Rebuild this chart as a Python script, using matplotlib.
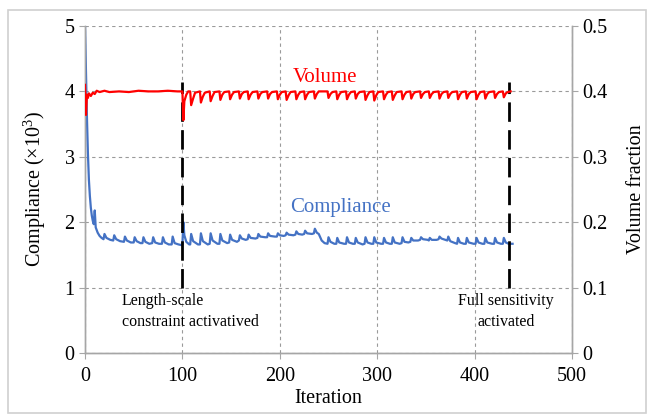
import matplotlib
matplotlib.use("Agg")
import matplotlib.pyplot as plt
from matplotlib.patches import Rectangle

plt.rcParams['font.family'] = ['Liberation Serif', 'DejaVu Serif']
plt.rcParams['mathtext.fontset'] = 'custom'
plt.rcParams['mathtext.rm'] = 'Liberation Serif'
plt.rcParams['mathtext.it'] = 'Liberation Serif:italic'

# compliance history (x10^3), vertices
comp_iter = [0, 1, 2, 3, 4, 5, 6, 7, 8, 9, 10, 11, 13, 15, 17,
             19, 20, 22, 26, 29, 30, 32, 36, 40, 41, 43, 47,
             50, 51, 53, 57, 59, 60, 62, 66, 69, 70, 72, 76,
             79, 80, 82, 86, 89, 90, 92, 96, 99, 100, 101, 102, 104, 107,
             108, 109, 111, 116, 118, 119, 121, 126, 128, 129, 131, 136,
             138, 139, 141, 146, 148, 149, 151, 156, 158, 159, 161, 165,
             167, 168, 170, 175, 177, 178, 180, 185, 187, 188, 190, 195,
             197, 198, 200, 204, 206, 207, 209, 214, 216, 217, 219, 223,
             225, 226, 228, 233, 235, 236, 238, 240, 243, 246,
             249, 250, 252, 256, 258, 259, 261, 266, 268, 269, 271, 275,
             277, 278, 280, 285, 287, 288, 290, 294, 296, 297, 299, 304,
             306, 307, 309, 313, 315, 316, 318, 323, 325, 326, 328, 332,
             334, 335, 337, 342, 344, 345, 347, 352, 353, 354, 356, 361,
             363, 364, 366, 370, 372, 373, 375, 380, 382, 383, 385, 389,
             391, 392, 394, 399, 401, 402, 404, 408, 410, 411, 413, 418,
             420, 421, 423, 427, 429, 430, 432, 435, 439]
comp_val = [5.0, 4.3, 3.6, 3.05, 2.65, 2.4, 2.22, 2.1, 2.02, 1.97, 2.18, 1.92, 1.84, 1.79, 1.76,
            1.74, 1.82, 1.76, 1.73, 1.72, 1.80, 1.74, 1.71, 1.70, 1.78, 1.72, 1.69,
            1.69, 1.77, 1.71, 1.68, 1.68, 1.77, 1.70, 1.67, 1.68, 1.77, 1.69, 1.67,
            1.67, 1.77, 1.69, 1.66, 1.66, 1.78, 1.68, 1.66, 1.65, 1.66, 2.0, 1.80, 1.70, 1.66,
            1.66, 1.82, 1.71, 1.66, 1.66, 1.83, 1.71, 1.66, 1.67, 1.83, 1.72, 1.67,
            1.67, 1.82, 1.72, 1.68, 1.69, 1.81, 1.73, 1.70, 1.72, 1.80, 1.75, 1.73,
            1.74, 1.81, 1.76, 1.75, 1.76, 1.82, 1.78, 1.77, 1.77, 1.83, 1.79, 1.78,
            1.78, 1.83, 1.80, 1.79, 1.80, 1.84, 1.81, 1.80, 1.81, 1.86, 1.82, 1.81,
            1.82, 1.87, 1.83, 1.82, 1.83, 1.90, 1.84, 1.82, 1.72, 1.68,
            1.67, 1.77, 1.70, 1.67, 1.67, 1.76, 1.69, 1.67, 1.67, 1.77, 1.69, 1.67,
            1.67, 1.76, 1.69, 1.66, 1.67, 1.77, 1.69, 1.67, 1.67, 1.77, 1.69, 1.67,
            1.67, 1.76, 1.69, 1.67, 1.67, 1.77, 1.69, 1.67, 1.68, 1.77, 1.70, 1.69,
            1.70, 1.76, 1.72, 1.72, 1.73, 1.77, 1.74, 1.73, 1.72, 1.76, 1.73, 1.73,
            1.74, 1.78, 1.75, 1.73, 1.72, 1.78, 1.71, 1.68, 1.67, 1.76, 1.69, 1.67,
            1.67, 1.76, 1.69, 1.67, 1.67, 1.76, 1.69, 1.67, 1.67, 1.76, 1.69, 1.67,
            1.67, 1.76, 1.69, 1.67, 1.67, 1.76, 1.69, 1.67, 1.67]

# volume fraction history
vol_iter = [0, 1, 2, 3, 4, 6, 8, 10, 12, 15, 20, 25, 35, 45, 55, 65, 75, 85, 95,
            100, 101, 102, 104, 106,
            108, 109, 111, 113, 118, 119, 121, 123, 128, 129, 131, 133,
            138, 139, 141, 143, 148, 149, 151, 153, 158, 159, 161, 163,
            167, 168, 170, 172, 177, 178, 180, 182, 187, 188, 190, 192,
            197, 198, 200, 202, 206, 207, 209, 211, 216, 217, 219, 221,
            225, 226, 228, 230, 235, 236, 238, 240,
            249, 250, 252, 254, 258, 259, 261, 263, 268, 269, 271, 273,
            277, 278, 280, 282, 287, 288, 290, 292, 296, 297, 299, 301,
            306, 307, 309, 311, 315, 316, 318, 320, 325, 326, 328, 330,
            334, 335, 337, 339, 344, 345, 347, 349, 353, 354, 356, 358,
            363, 364, 366, 368, 372, 373, 375, 377, 382, 383, 385, 387,
            391, 392, 394, 396, 401, 402, 404, 406, 410, 411, 413, 415,
            420, 421, 423, 425, 429, 430, 432, 434, 437]
vol_val = [0.41, 0.364, 0.395, 0.39, 0.397, 0.393, 0.398, 0.396, 0.401, 0.399, 0.401, 0.399, 0.400, 0.399, 0.401, 0.400, 0.400, 0.401, 0.400,
           0.400, 0.356, 0.385, 0.395, 0.400,
           0.400, 0.379, 0.389, 0.398, 0.400, 0.383, 0.392, 0.398, 0.400, 0.385, 0.393, 0.399,
           0.400, 0.387, 0.395, 0.399, 0.400, 0.388, 0.395, 0.399, 0.400, 0.389, 0.396, 0.399,
           0.400, 0.388, 0.395, 0.399, 0.400, 0.389, 0.396, 0.399, 0.400, 0.389, 0.396, 0.399,
           0.400, 0.388, 0.395, 0.399, 0.400, 0.387, 0.394, 0.399, 0.400, 0.388, 0.395, 0.399,
           0.400, 0.388, 0.395, 0.399, 0.400, 0.389, 0.396, 0.400,
           0.400, 0.390, 0.396, 0.399, 0.400, 0.388, 0.395, 0.399, 0.400, 0.388, 0.395, 0.399,
           0.400, 0.389, 0.396, 0.399, 0.400, 0.387, 0.394, 0.399, 0.400, 0.386, 0.394, 0.399,
           0.400, 0.388, 0.395, 0.399, 0.400, 0.387, 0.394, 0.399, 0.400, 0.388, 0.395, 0.399,
           0.400, 0.389, 0.396, 0.399, 0.400, 0.390, 0.396, 0.399, 0.400, 0.390, 0.396, 0.399,
           0.400, 0.389, 0.396, 0.399, 0.400, 0.390, 0.396, 0.399, 0.400, 0.388, 0.395, 0.399,
           0.400, 0.389, 0.396, 0.399, 0.400, 0.388, 0.395, 0.399, 0.400, 0.389, 0.396, 0.399,
           0.400, 0.390, 0.396, 0.399, 0.400, 0.391, 0.397, 0.399, 0.400]

x_ticks = [0, 100, 200, 300, 400, 500]
comp_ticks = [0, 1, 2, 3, 4, 5]
vol_ticks = [0, 0.1, 0.2, 0.3, 0.4, 0.5]
vol_tick_labels = ['0', '0.1', '0.2', '0.3', '0.4', '0.5']
event_iters = [100, 435]
event_texts = ['Length-scale\nconstraint activatived', 'Full sensitivity\nactivated']

blue = '#4472C4'
red = '#FF0000'
gray = '#A6A6A6'

fig = plt.figure(figsize=(6.51, 4.19), dpi=100)
fig.patches.append(Rectangle((8 / 651, 6 / 419), 638 / 651, 403 / 419, transform=fig.transFigure,
                             fill=False, edgecolor='#D0D0D0', linewidth=1.2))
ax = fig.add_axes([85 / 651, 66 / 419, 487 / 651, 327 / 419])
ax2 = ax.twinx()

ax.set_xlim(0, 500)
ax.set_ylim(0, 5)
ax2.set_ylim(0, 0.5)

ax.set_xticks(x_ticks)
ax.set_yticks(comp_ticks)
ax2.set_yticks(vol_ticks)
ax2.set_yticklabels(vol_tick_labels)

ax.grid(True, linestyle=(0, (3, 3)), color='#9A9A9A', linewidth=0.8)
ax.set_axisbelow(True)

for a in (ax, ax2):
    for s in a.spines.values():
        s.set_color(gray)
        s.set_linewidth(1.0)
    a.spines['top'].set_visible(False)
    a.tick_params(colors='black', labelsize=14.5, length=4, width=0.8)
    a.tick_params(axis='both', color=gray)
ax.tick_params(axis='x', pad=6)

ax.plot(comp_iter, comp_val, color=blue, linewidth=1.6, zorder=3)
ax2.plot(vol_iter, vol_val, color=red, linewidth=1.6, zorder=3)

for xi in event_iters:
    ax.plot([xi, xi], [1.0, 4.15], color='black', linewidth=2.0,
            linestyle=(0, (7, 3)), zorder=4)

ax.text(38, 0.63, event_texts[0], fontsize=11.5, ha='left', va='center', linespacing=1.45)
ax.text(432, 0.63, event_texts[1], fontsize=11.5, ha='center', va='center', linespacing=1.45)

ax.text(246, 4.22, 'Volume', color=red, fontsize=15, ha='center', va='center')
ax.text(262, 2.22, 'Compliance', color=blue, fontsize=15, ha='center', va='center')

ax.set_xlabel('Iteration', fontsize=14.5, labelpad=2)
ax.set_ylabel(r'Compliance ($\times$10$^3$)', fontsize=14.5, labelpad=12)
ax2.set_ylabel('Volume fraction', fontsize=14.5, labelpad=14)

fig.savefig('out.png', dpi=100)
